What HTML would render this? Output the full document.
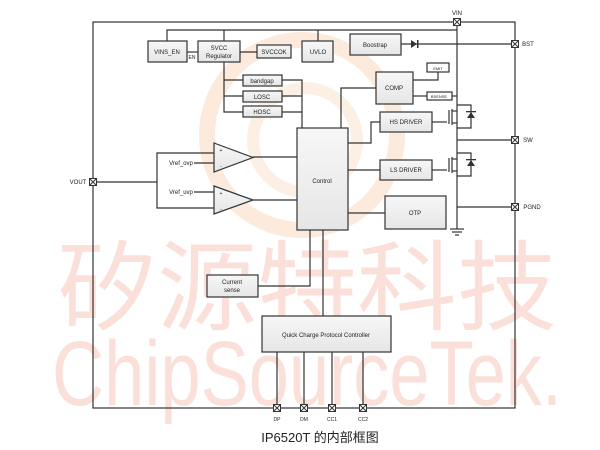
<!DOCTYPE html>
<html><head><meta charset="utf-8"><style>
html,body{margin:0;padding:0;background:#fff;}
svg{display:block;}
text{font-family:"Liberation Sans",sans-serif;fill:#222;}
</style></head><body>
<svg width="600" height="450" viewBox="0 0 600 450" xmlns="http://www.w3.org/2000/svg">
<defs>
<linearGradient id="g" x1="0" y1="0" x2="0" y2="1"><stop offset="0" stop-color="#f7f7f7"/><stop offset="1" stop-color="#e6e6e6"/></linearGradient>
<g id="pad"><rect x="-3.5" y="-3.5" width="7" height="7"/><path d="M-3.5,-3.5L3.5,3.5M3.5,-3.5L-3.5,3.5"/></g>
</defs>
<!-- watermark -->
<circle cx="302" cy="135" r="95" fill="none" stroke="#fcebdc" stroke-width="16"/>
<circle cx="305" cy="140" r="52" fill="none" stroke="#fcefe4" stroke-width="12"/>
<text x="307" y="322" text-anchor="middle" font-size="98" style="fill:#fbe0da;font-family:'Noto Sans CJK SC',sans-serif" textLength="500" lengthAdjust="spacingAndGlyphs">矽源特科技</text>
<text x="307" y="405" text-anchor="middle" font-size="92" style="fill:#fbe0da" textLength="510" lengthAdjust="spacingAndGlyphs">ChipSourceTek.</text>

<g stroke="#333" stroke-width="1.2" fill="none">
<rect x="93" y="22" width="422" height="386"/>
<polyline points="167,41 167,30 457,30"/>
<line x1="224" y1="30" x2="224" y2="41"/>
<line x1="318" y1="30" x2="318" y2="41"/>
<line x1="457" y1="22" x2="457" y2="229"/>
<line x1="450" y1="229" x2="464" y2="229"/><line x1="452" y1="232" x2="462" y2="232"/><line x1="455" y1="235" x2="459" y2="235"/>
<line x1="187" y1="52" x2="198" y2="52"/>
<line x1="240" y1="52" x2="257" y2="52"/>
<polyline points="224,62 224,112 243,112"/>
<line x1="224" y1="80" x2="243" y2="80"/><line x1="224" y1="96" x2="243" y2="96"/>
<polyline points="282,80 302,80 302,128"/>
<line x1="282" y1="96" x2="302" y2="96"/><line x1="282" y1="112" x2="302" y2="112"/>
<line x1="401" y1="44" x2="515" y2="44"/>
<polyline points="341,128 341,88 376,88"/>
<polyline points="413,80 438,80 438,72"/>
<line x1="413" y1="96" x2="427" y2="96"/>
<line x1="452" y1="96" x2="457" y2="96"/>
<polyline points="348,143 371,143 371,122 380,122"/>
<line x1="348" y1="170" x2="380" y2="170"/>
<line x1="432" y1="122" x2="447" y2="122"/>
<line x1="432" y1="170" x2="447" y2="170"/>
<line x1="348" y1="213" x2="385" y2="213"/>
<line x1="457" y1="140" x2="515" y2="140"/>
<line x1="457" y1="207" x2="515" y2="207"/>
<g>
<line x1="449" y1="110" x2="449" y2="124"/><line x1="452" y1="109" x2="452" y2="125"/>
<polyline points="452,111 457,111"/><polyline points="452,123 457,123"/>
<polyline points="457,105 471,105 471,128 457,128"/>
<line x1="449" y1="158" x2="449" y2="172"/><line x1="452" y1="157" x2="452" y2="173"/>
<polyline points="452,159 457,159"/><polyline points="452,171 457,171"/>
<polyline points="457,153 471,153 471,176 457,176"/>
</g>
<line x1="93" y1="182" x2="157" y2="182"/>
<polyline points="214,153 157,153 157,208 214,208"/>
<line x1="194" y1="163" x2="214" y2="163"/>
<line x1="194" y1="192" x2="214" y2="192"/>
<polygon points="214,143 253,157.5 214,172" fill="url(#g)"/>
<polygon points="214,186 253,200 214,214" fill="url(#g)"/>
<line x1="253" y1="157" x2="297" y2="157"/>
<line x1="253" y1="200" x2="297" y2="200"/>
<polyline points="310,230 310,286 258,286"/>
<line x1="323" y1="230" x2="323" y2="316"/>
<line x1="277" y1="352" x2="277" y2="408"/>
<line x1="304" y1="352" x2="304" y2="408"/>
<line x1="332" y1="352" x2="332" y2="408"/>
<line x1="363" y1="352" x2="363" y2="408"/>
</g>
<g fill="#333" stroke="none">
<polygon points="411,40 411,48 417,44"/><rect x="417" y="40" width="1.5" height="8"/>
<polygon points="467,118 475,118 471,112"/><rect x="466" y="111" width="10" height="1.3"/>
<polygon points="467,166 475,166 471,160"/><rect x="466" y="159" width="10" height="1.3"/>
</g>
<g stroke="#333" stroke-width="1.2" fill="url(#g)">
<rect x="148" y="41" width="39" height="21"/>
<rect x="198" y="41" width="42" height="21"/>
<rect x="257" y="45" width="34" height="13"/>
<rect x="302" y="41" width="31" height="21"/>
<rect x="350" y="34" width="51" height="21"/>
<rect x="243" y="75" width="39" height="11"/>
<rect x="243" y="91" width="39" height="11"/>
<rect x="243" y="106" width="39" height="11"/>
<rect x="297" y="128" width="51" height="102"/>
<rect x="376" y="72" width="37" height="32"/>
<rect x="427" y="63" width="22" height="9" fill="#fff"/>
<rect x="427" y="92" width="25" height="8" fill="#fff"/>
<rect x="380" y="112" width="52" height="20"/>
<rect x="380" y="160" width="52" height="20"/>
<rect x="385" y="196" width="61" height="33"/>
<rect x="207" y="275" width="51" height="22"/>
<rect x="262" y="316" width="129" height="36"/>
</g>
<g stroke="#333" stroke-width="1" fill="#fff">
<use href="#pad" x="457" y="22"/><use href="#pad" x="515" y="44"/><use href="#pad" x="515" y="140"/><use href="#pad" x="515" y="207"/>
<use href="#pad" x="93" y="182"/><use href="#pad" x="277" y="408"/><use href="#pad" x="304" y="408"/><use href="#pad" x="332" y="408"/><use href="#pad" x="363" y="408"/>
</g>
<g font-size="6" text-anchor="middle">
<text x="167" y="54">VINS_EN</text>
<text x="192" y="59" font-size="5">EN</text>
<text x="219" y="50">SVCC</text><text x="219" y="58">Regulator</text>
<text x="274" y="54">SVCCOK</text>
<text x="318" y="54">UVLO</text>
<text x="375" y="47">Boostrap</text>
<text x="262" y="83">bandgap</text>
<text x="262" y="99">LOSC</text>
<text x="262" y="114">HOSC</text>
<text x="394" y="90">COMP</text>
<text x="438" y="70" font-size="4">EMIT</text>
<text x="439" y="98" font-size="4">BSENSE</text>
<text x="406" y="124">HS DRIVER</text>
<text x="406" y="172">LS DRIVER</text>
<text x="415" y="215">OTP</text>
<text x="322" y="183">Control</text>
<text x="232" y="284">Current</text><text x="232" y="292">sense</text>
<text x="326" y="337">Quick Charge Protocol Controller</text>
<text x="457" y="15">VIN</text>
<text x="528" y="46">BST</text>
<text x="528" y="142">SW</text>
<text x="532" y="209">PGND</text>
<text x="78" y="184">VOUT</text>
<text x="181" y="165">Vref_ovp</text>
<text x="181" y="194">Vref_uvp</text>
<text x="277" y="421" font-size="5">DP</text>
<text x="304" y="421" font-size="5">DM</text>
<text x="332" y="421" font-size="5">CC1</text>
<text x="363" y="421" font-size="5">CC2</text>
<text x="221" y="168" font-size="5">-</text><text x="221" y="152" font-size="5">+</text>
<text x="221" y="211" font-size="5">-</text><text x="221" y="195" font-size="5">+</text>
</g>
<text x="320" y="442" text-anchor="middle" font-size="13" style="font-family:'Liberation Sans','Noto Sans CJK SC',sans-serif">IP6520T 的内部框图</text>
</svg>
</body></html>
